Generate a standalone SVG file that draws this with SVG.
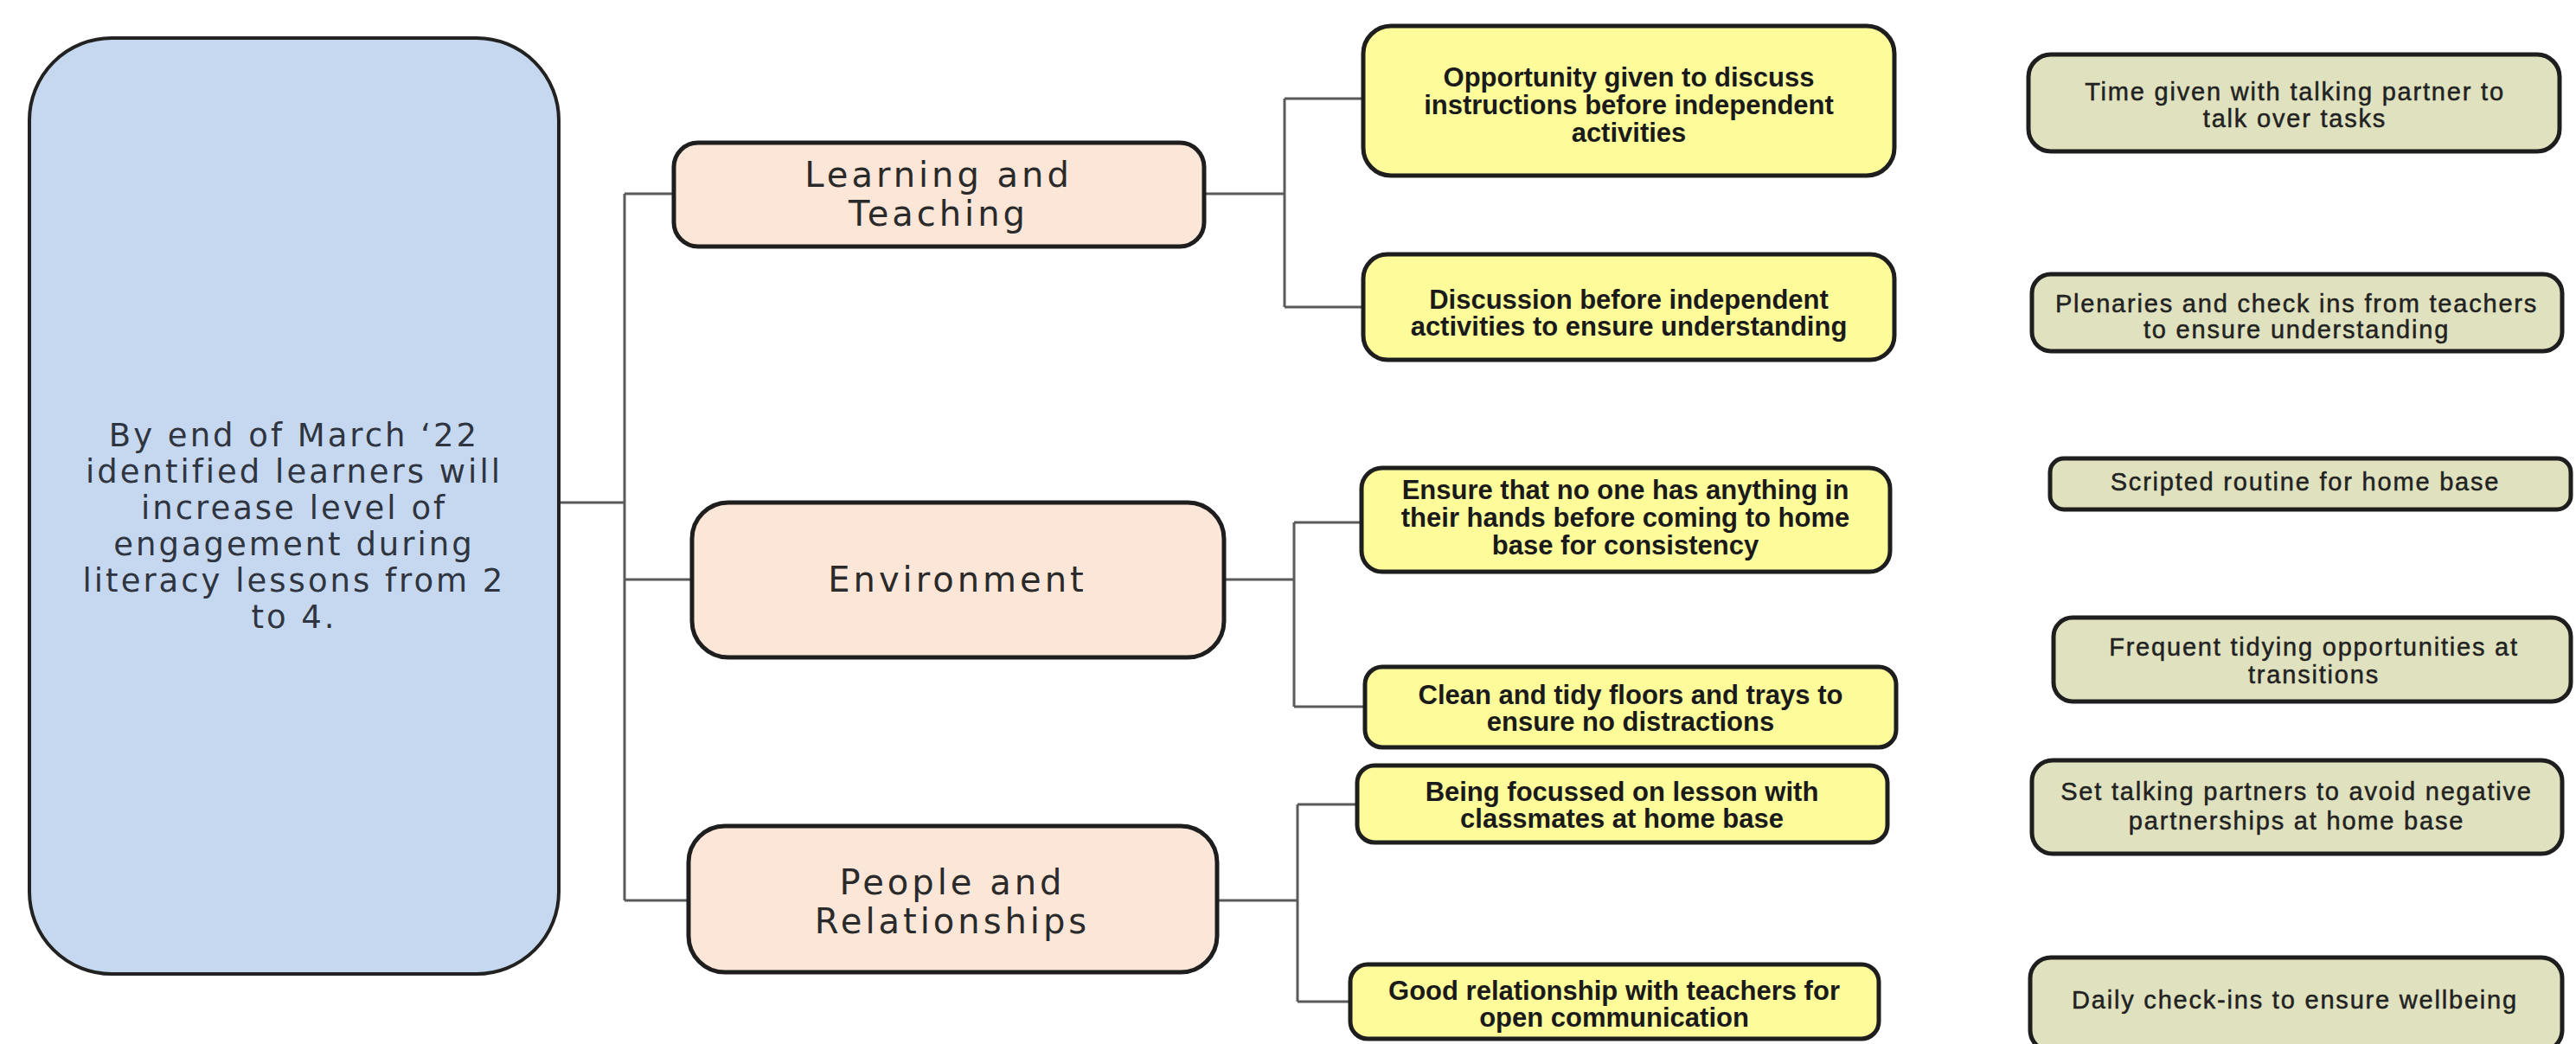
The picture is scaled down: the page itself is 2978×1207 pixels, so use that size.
<svg xmlns="http://www.w3.org/2000/svg" width="2978" height="1207" viewBox="0 0 2978 1207">
<style>
.bg{fill:#ffffff}
.main{fill:#c6d8ef;stroke:#222;stroke-width:4}
.l1{fill:#fbe6d8;stroke:#1e1e1e;stroke-width:5}
.yel{fill:#fdfb9a;stroke:#1e1e1e;stroke-width:5}
.grn{fill:#e0e2bf;stroke:#1e1e1e;stroke-width:5}
.conn{fill:none;stroke:#5a5a5a;stroke-width:3}
.tm{font-family:"DejaVu Sans",sans-serif;font-size:37px;letter-spacing:3px;fill:#2f3540;text-anchor:middle}
.t1{font-family:"DejaVu Sans",sans-serif;font-size:40px;letter-spacing:4px;fill:#2a2a2a;text-anchor:middle}
.ty{font-family:"Liberation Sans",Arial,sans-serif;font-weight:bold;font-size:31px;fill:#1a1a1a;text-anchor:middle}
.tg{font-family:"Liberation Sans",Arial,sans-serif;font-size:29px;letter-spacing:1.8px;fill:#222;stroke:#222;stroke-width:0.5;text-anchor:middle}
</style>
<rect class="bg" x="0" y="0" width="2978" height="1207"/>
<g id="connectors">
<path class="conn" d="M646 581 H722 M722 224 V1041 M722 224 H779 M722 670 H800 M722 1041 H796"/>
<path class="conn" d="M1392 224 H1485 M1485 114 V355 M1485 114 H1576 M1485 355 H1576"/>
<path class="conn" d="M1415 670 H1496 M1496 604 V817 M1496 604 H1574 M1496 817 H1578"/>
<path class="conn" d="M1407 1041 H1500 M1500 930 V1158 M1500 930 H1569 M1500 1158 H1561"/>
</g>
<g id="goal">
<rect class="main" x="34" y="44" width="612" height="1082" rx="95"/>
<text class="tm" x="340" y="516">By end of March ‘22</text>
<text class="tm" x="340" y="558">identified learners will</text>
<text class="tm" x="340" y="600">increase level of</text>
<text class="tm" x="340" y="642">engagement during</text>
<text class="tm" x="340" y="684">literacy lessons from 2</text>
<text class="tm" x="340" y="726">to 4.</text>
</g>
<g id="learning-teaching">
<rect class="l1" x="779" y="165" width="613" height="120" rx="28"/>
<text class="t1" x="1085" y="216">Learning and</text>
<text class="t1" x="1085" y="261">Teaching</text>
</g>
<g id="environment">
<rect class="l1" x="800" y="581" width="615" height="179" rx="42"/>
<text class="t1" x="1107" y="684">Environment</text>
</g>
<g id="people-relationships">
<rect class="l1" x="796" y="955" width="611" height="169" rx="42"/>
<text class="t1" x="1101" y="1034">People and</text>
<text class="t1" x="1101" y="1079">Relationships</text>
</g>
<g id="y1">
<rect class="yel" x="1576" y="30" width="614" height="173" rx="32"/>
<text class="ty" x="1883" y="100">Opportunity given to discuss</text>
<text class="ty" x="1883" y="132">instructions before independent</text>
<text class="ty" x="1883" y="164">activities</text>
</g>
<g id="y2">
<rect class="yel" x="1576" y="294" width="614" height="122" rx="28"/>
<text class="ty" x="1883" y="357">Discussion before independent</text>
<text class="ty" x="1883" y="388">activities to ensure understanding</text>
</g>
<g id="y3">
<rect class="yel" x="1574" y="541" width="611" height="120" rx="24"/>
<text class="ty" x="1879" y="577">Ensure that no one has anything in</text>
<text class="ty" x="1879" y="609">their hands before coming to home</text>
<text class="ty" x="1879" y="641">base for consistency</text>
</g>
<g id="y4">
<rect class="yel" x="1578" y="771" width="614" height="93" rx="20"/>
<text class="ty" x="1885" y="814">Clean and tidy floors and trays to</text>
<text class="ty" x="1885" y="845">ensure no distractions</text>
</g>
<g id="y5">
<rect class="yel" x="1569" y="885" width="613" height="89" rx="20"/>
<text class="ty" x="1875" y="926">Being focussed on lesson with</text>
<text class="ty" x="1875" y="957">classmates at home base</text>
</g>
<g id="y6">
<rect class="yel" x="1561" y="1115" width="611" height="86" rx="20"/>
<text class="ty" x="1866" y="1156">Good relationship with teachers for</text>
<text class="ty" x="1866" y="1187">open communication</text>
</g>
<g id="g1">
<rect class="grn" x="2345" y="63" width="614" height="112" rx="26"/>
<text class="tg" x="2653" y="116">Time given with talking partner to</text>
<text class="tg" x="2653" y="147">talk over tasks</text>
</g>
<g id="g2">
<rect class="grn" x="2349" y="317" width="613" height="89" rx="22"/>
<text class="tg" x="2655" y="361">Plenaries and check ins from teachers</text>
<text class="tg" x="2655" y="391">to ensure understanding</text>
</g>
<g id="g3">
<rect class="grn" x="2370" y="530" width="602" height="59" rx="16"/>
<text class="tg" x="2665" y="567">Scripted routine for home base</text>
</g>
<g id="g4">
<rect class="grn" x="2374" y="714" width="598" height="97" rx="22"/>
<text class="tg" x="2675" y="758">Frequent tidying opportunities at</text>
<text class="tg" x="2675" y="790">transitions</text>
</g>
<g id="g5">
<rect class="grn" x="2349" y="879" width="613" height="108" rx="24"/>
<text class="tg" x="2655" y="925">Set talking partners to avoid negative</text>
<text class="tg" x="2655" y="959">partnerships at home base</text>
</g>
<g id="g6">
<rect class="grn" x="2347" y="1107" width="615" height="108" rx="24"/>
<text class="tg" x="2653" y="1166">Daily check-ins to ensure wellbeing</text>
</g>
</svg>
